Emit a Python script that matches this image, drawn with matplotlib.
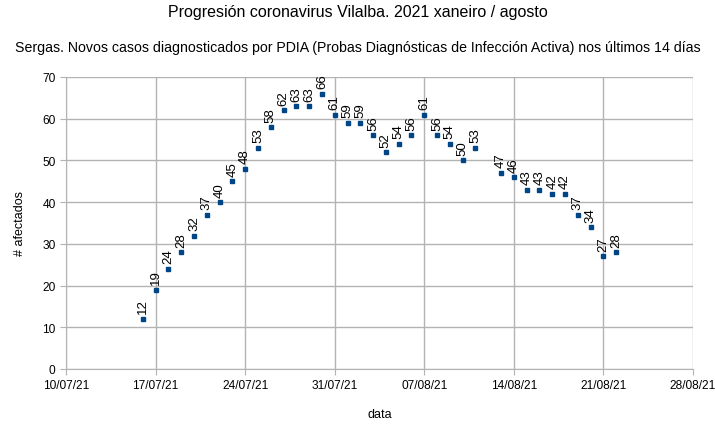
import matplotlib
matplotlib.use("Agg")
import matplotlib.pyplot as plt
import matplotlib.dates as mdates
import datetime as dt

plt.rcParams['font.family'] = ['Liberation Sans', 'DejaVu Sans']

dates = ["2021-07-16", "2021-07-17", "2021-07-18", "2021-07-19", "2021-07-20",
         "2021-07-21", "2021-07-22", "2021-07-23", "2021-07-24", "2021-07-25",
         "2021-07-26", "2021-07-27", "2021-07-28", "2021-07-29", "2021-07-30",
         "2021-07-31", "2021-08-01", "2021-08-02", "2021-08-03", "2021-08-04",
         "2021-08-05", "2021-08-06", "2021-08-07", "2021-08-08", "2021-08-09",
         "2021-08-10", "2021-08-11", "2021-08-13", "2021-08-14", "2021-08-15",
         "2021-08-16", "2021-08-17", "2021-08-18", "2021-08-19", "2021-08-20",
         "2021-08-21", "2021-08-22"]
cases = [12, 19, 24, 28, 32, 37, 40, 45, 48, 53, 58, 62, 63, 63, 66, 61, 59, 59,
         56, 52, 54, 56, 61, 56, 54, 50, 53, 47, 46, 43, 43, 42, 42, 37, 34, 27, 28]
tick_dates = ["2021-07-10", "2021-07-17", "2021-07-24", "2021-07-31",
              "2021-08-07", "2021-08-14", "2021-08-21", "2021-08-28"]

x = [dt.datetime.strptime(d, "%Y-%m-%d") for d in dates]
xt = [dt.datetime.strptime(d, "%Y-%m-%d") for d in tick_dates]

fig = plt.figure(figsize=(7.15, 4.27), dpi=100)
ax = fig.add_axes([66/715, 1-370/427, (693-66)/715, (370-78)/427])

ax.plot(x, cases, linestyle='none', marker='s', markersize=3.5, color='#004586', zorder=3)
for xi, yi in zip(x, cases):
    ax.annotate(str(yi), (xi, yi), xytext=(0, 4), textcoords='offset points',
                rotation=90, ha='center', va='bottom', fontsize=9.5, color='black')

ax.set_xlim(xt[0], xt[-1])
ax.set_ylim(0, 70)
ax.set_xticks(xt)
ax.xaxis.set_major_formatter(mdates.DateFormatter('%d/%m/%y'))
ax.set_yticks(range(0, 71, 10))
ax.grid(True, color='#b3b3b3', linewidth=1)
ax.set_axisbelow(True)
for s in ['top', 'right']:
    ax.spines[s].set_visible(False)
for s in ['left', 'bottom']:
    ax.spines[s].set_color('#b3b3b3')
ax.tick_params(axis='both', colors='#b3b3b3', labelcolor='black', labelsize=8.6, length=4)

ax.set_xlabel('data', fontsize=9, labelpad=12)
ax.set_ylabel('# afectados', fontsize=9, labelpad=12)

fig.text(0.5, 1-12/427, 'Progresión coronavirus Vilalba. 2021 xaneiro / agosto',
         ha='center', va='center', fontsize=11.5)
fig.text(0.5, 1-48/427, 'Sergas. Novos casos diagnosticados por PDIA (Probas Diagnósticas de Infección Activa) nos últimos 14 días',
         ha='center', va='center', fontsize=10.2)

fig.savefig('out.png', dpi=100)
